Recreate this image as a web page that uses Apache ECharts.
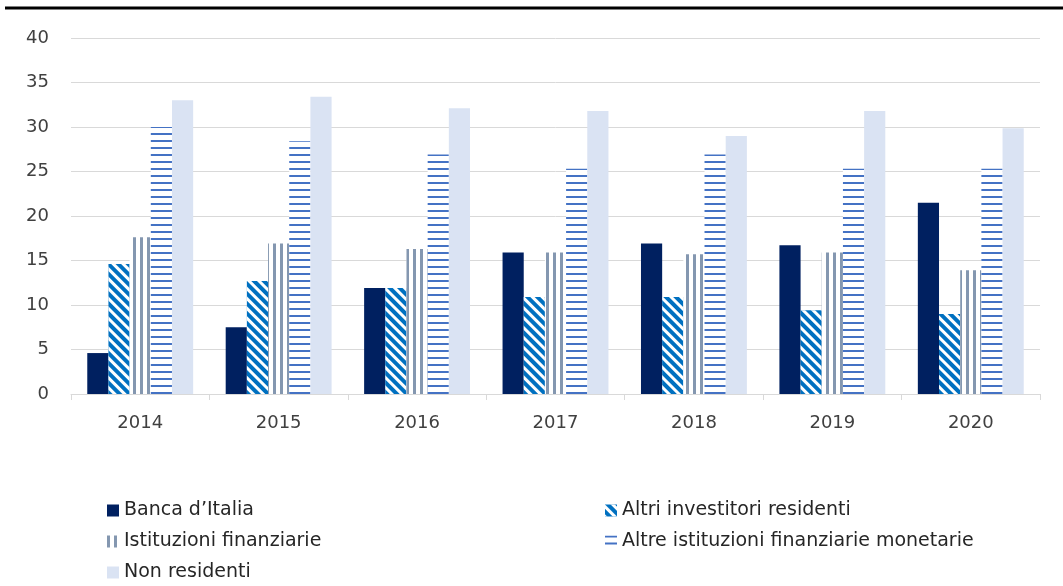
<!DOCTYPE html>
<html>
<head>
<meta charset="utf-8">
<script src="https://cdn.jsdelivr.net/npm/echarts@6/dist/echarts.min.js"></script>
<style>
  html, body { margin: 0; padding: 0; background: #fff; }
  #main { width: 1063px; height: 586px; }
</style>
</head>
<body>
<div id="main"></div>
<script>
// dati
var anni = ['2014', '2015', '2016', '2017', '2018', '2019', '2020'];
var bancaItalia = [4.6, 7.5, 11.9, 15.9, 16.9, 16.7, 21.5];
var altriInvestitori = [14.6, 12.7, 11.9, 10.9, 10.9, 9.4, 9.0];
var istFinanziarie = [17.6, 16.9, 16.3, 15.9, 15.7, 15.9, 13.9];
var altreIfm = [30.0, 28.4, 26.9, 25.3, 26.9, 25.3, 25.3];
var nonResidenti = [33.0, 33.4, 32.1, 31.8, 29.0, 31.8, 29.85];
var yTicks = [0, 5, 10, 15, 20, 25, 30, 35, 40];

var font = 'DejaVu Sans';

var chart = echarts.init(document.getElementById('main'));

function serie(name, data, color, decal) {
    var s = {
        name: name,
        type: 'bar',
        data: data,
        barGap: '0%',
        barCategoryGap: '23.5%',
        itemStyle: { color: color }
    };
    if (decal) s.itemStyle.decal = decal;
    return s;
}

var legendaBase = {
    orient: 'vertical',
    top: 501,
    padding: 0,
    icon: 'rect',
    itemWidth: 12,
    itemHeight: 12,
    itemGap: 12,
    textStyle: { color: '#262626', fontSize: 19, lineHeight: 19, fontFamily: font }
};

chart.setOption({
    animation: false,
    textStyle: { fontFamily: font },
    grid: { left: 71, right: 23, top: 38, bottom: 192 },
    graphic: [{
        type: 'line',
        shape: { x1: 5, y1: 8, x2: 1063, y2: 8 },
        style: { stroke: '#000', lineWidth: 3 }
    }],
    xAxis: {
        type: 'category',
        data: anni,
        axisLine: { lineStyle: { color: '#d9d9d9', width: 1 } },
        axisTick: { show: true, length: 6, lineStyle: { color: '#d9d9d9' } },
        axisLabel: { color: '#404040', fontSize: 18, margin: 20, fontFamily: font }
    },
    yAxis: {
        type: 'value',
        min: 0,
        max: 40,
        interval: 5,
        axisLine: { show: false },
        axisTick: { show: false },
        splitLine: { lineStyle: { color: '#d9d9d9', width: 1 } },
        axisLabel: {
            color: '#404040', fontSize: 18, margin: 22, fontFamily: font,
            formatter: function (v) { return yTicks.indexOf(v) >= 0 ? String(v) : ''; }
        }
    },
    legend: [
        Object.assign({}, legendaBase, {
            left: 107,
            data: ['Banca d\u2019Italia', 'Istituzioni finanziarie', 'Non residenti']
        }),
        Object.assign({}, legendaBase, {
            left: 605,
            data: ['Altri investitori residenti', 'Altre istituzioni finanziarie monetarie']
        })
    ],
    series: [
        serie('Banca d\u2019Italia', bancaItalia, '#002060'),
        serie('Altri investitori residenti', altriInvestitori, '#0070c0', {
            symbol: 'rect', color: '#ffffff',
            dashArrayX: [1, 0], dashArrayY: [2.5, 4],
            rotation: Math.PI / 4
        }),
        serie('Istituzioni finanziarie', istFinanziarie, '#ffffff', {
            symbol: 'rect', color: '#8497b0',
            dashArrayX: [3, 4], dashArrayY: [1, 0],
            rotation: 0
        }),
        serie('Altre istituzioni finanziarie monetarie', altreIfm, '#ffffff', {
            symbol: 'rect', color: '#4472c4',
            dashArrayX: [1, 0], dashArrayY: [2, 5],
            rotation: 0
        }),
        serie('Non residenti', nonResidenti, '#dae3f3')
    ]
});
</script>
</body>
</html>
